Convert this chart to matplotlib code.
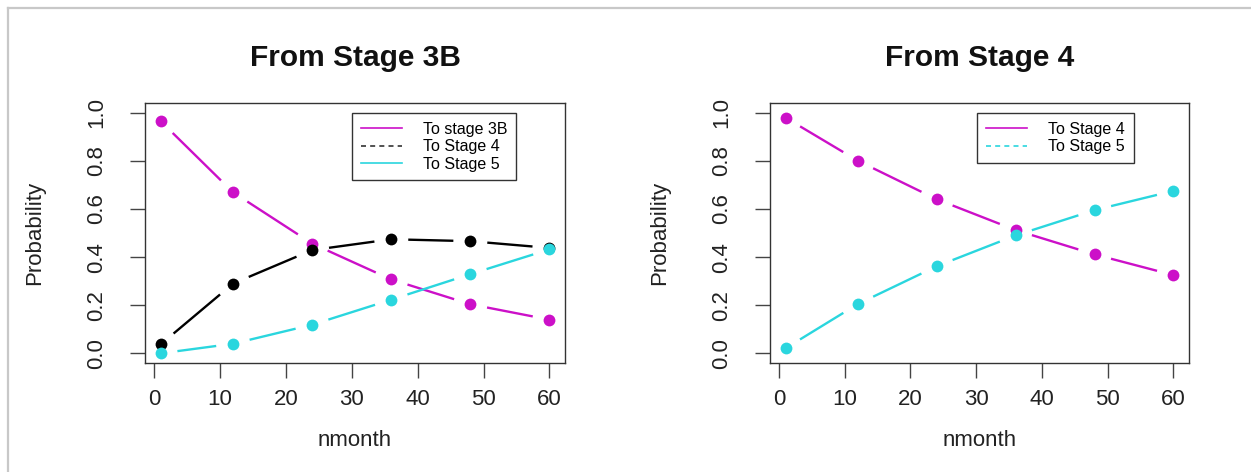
import numpy as np
import matplotlib
matplotlib.use("Agg")
import matplotlib.pyplot as plt
from matplotlib.lines import Line2D

# ---- data ----
months = [1, 12, 24, 36, 48, 60]
s3b_to_3b = [0.965, 0.669, 0.456, 0.307, 0.204, 0.140]
s3b_to_4 = [0.037, 0.290, 0.429, 0.474, 0.466, 0.438]
s3b_to_5 = [0.000, 0.040, 0.119, 0.223, 0.329, 0.432]
s4_to_4 = [0.979, 0.800, 0.640, 0.512, 0.411, 0.325]
s4_to_5 = [0.021, 0.205, 0.362, 0.490, 0.595, 0.675]
xticks = [0, 10, 20, 30, 40, 50, 60]
yticks = [0.0, 0.2, 0.4, 0.6, 0.8, 1.0]
ytick_labels = ["0.0", "0.2", "0.4", "0.6", "0.8", "1.0"]

MAG = "#cc10c8"
CYA = "#2ad6de"
BLK = "#000000"

plt.rcParams['font.family'] = ['Liberation Sans', 'DejaVu Sans']

W, H = 1251, 472
fig = plt.figure(figsize=(W / 100, H / 100), dpi=100)

def fx(px):
    return px / W

def fy(py):
    return 1 - py / H

# gray outer frame (left and top edges)
fig.add_artist(Line2D([fx(8), fx(8)], [fy(8), fy(472)], color="#c8c8c8", lw=1.6))
fig.add_artist(Line2D([fx(8), fx(1251)], [fy(8), fy(8)], color="#c8c8c8", lw=1.6))

GAP = 17  # pixels of gap around each point (R type="b")


def draw_b(ax, x, y, color):
    fig.canvas.draw()
    pts = ax.transData.transform(np.column_stack([x, y]))
    inv = ax.transData.inverted()
    for i in range(len(pts) - 1):
        p0, p1 = pts[i], pts[i + 1]
        d = p1 - p0
        L = np.hypot(*d)
        if L <= 2 * GAP:
            continue
        u = d / L
        a = inv.transform(p0 + u * GAP)
        b = inv.transform(p1 - u * GAP)
        ax.plot([a[0], b[0]], [a[1], b[1]], color=color, lw=1.7,
                solid_capstyle="butt", zorder=2)
    ax.plot(x, y, linestyle="none", marker="o", ms=8.5, color=color,
            markeredgewidth=0, zorder=3)


def setup(ax, title, title_x):
    ax.set_xlim(-1.36, 62.36)
    ax.set_ylim(-0.04, 1.04)
    ax.set_xticks(xticks)
    ax.set_xticklabels([str(t) for t in xticks])
    ax.set_yticks(yticks)
    ax.set_yticklabels(ytick_labels, rotation=90, va="center")
    ax.tick_params(axis="both", direction="out", length=11, width=1.0,
                   labelsize=16, color="#444444", labelcolor="#222222")
    ax.tick_params(axis="x", pad=8)
    ax.tick_params(axis="y", pad=16)
    for s in ax.spines.values():
        s.set_color("#333333")
        s.set_linewidth(1.0)
    ax.set_xlabel("nmonth", fontsize=16, color="#222222", labelpad=14)
    ax.set_ylabel("Probability", fontsize=16, color="#222222", labelpad=30)
    fig.text(title_x, fy(58), title, fontsize=21.5, fontweight="bold",
             ha="center", va="center", color="#111111")


def legend(ax, handles, labels, x0, y0):
    leg = ax.legend(handles, labels, loc="upper left",
                    bbox_to_anchor=(fx(x0), fy(y0)),
                    bbox_transform=fig.transFigure, borderaxespad=0,
                    fontsize=11.5, fancybox=False, framealpha=1,
                    edgecolor="#333333", handlelength=2.6, handletextpad=1.3,
                    labelspacing=0.15, borderpad=0.55)
    leg.get_frame().set_linewidth(1.0)
    return leg


# ---- left panel ----
ax1 = fig.add_axes([fx(145), fy(363), fx(565 - 145), (363 - 103) / H])
setup(ax1, "From Stage 3B", fx(355))
draw_b(ax1, months, s3b_to_3b, MAG)
draw_b(ax1, months, s3b_to_4, BLK)
draw_b(ax1, months, s3b_to_5, CYA)
h1 = [Line2D([], [], color=MAG, lw=1.2),
      Line2D([], [], color="#333333", lw=1.2, linestyle=(0, (3, 2.5))),
      Line2D([], [], color=CYA, lw=1.2)]
legend(ax1, h1, ["To stage 3B", "To Stage 4", "To Stage 5"], 352, 113)

# ---- right panel ----
ax2 = fig.add_axes([fx(770), fy(363), fx(1189 - 770), (363 - 103) / H])
setup(ax2, "From Stage 4", fx(980))
draw_b(ax2, months, s4_to_4, MAG)
draw_b(ax2, months, s4_to_5, CYA)
h2 = [Line2D([], [], color=MAG, lw=1.2),
      Line2D([], [], color=CYA, lw=1.2, linestyle=(0, (3, 2.5)))]
legend(ax2, h2, ["To Stage 4", "To Stage 5"], 977, 113)

fig.savefig("out.png", dpi=100, facecolor="white")
